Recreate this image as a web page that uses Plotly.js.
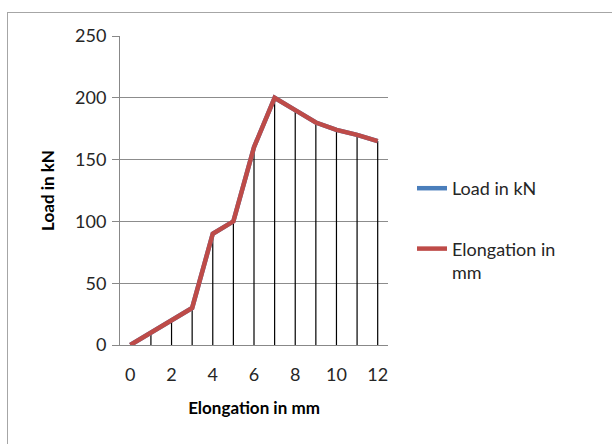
<!DOCTYPE html>
<html>
<head>
<meta charset="utf-8">
<script src="https://cdn.plot.ly/plotly-3.0.1.min.js"></script>
<style>
  html, body { margin: 0; padding: 0; background: #fff; }
  #wrap { position: relative; width: 612px; height: 444px; overflow: hidden; }
  #frame { position: absolute; left: 7px; top: 12px; width: 640px; height: 480px; border: 1px solid #a6a6a6; box-sizing: border-box; pointer-events: none; }
  #chart { position: absolute; left: 0; top: 0; width: 612px; height: 444px; }
</style>
</head>
<body>
<div id="wrap">
  <div id="chart"></div>
  <div id="frame"></div>
</div>
<script>
const elongation = [0, 1, 2, 3, 4, 5, 6, 7, 8, 9, 10, 11, 12];
const load = [0, 10, 20, 30, 90, 100, 160, 200, 190, 180, 174, 170, 165];
const xTicks = [0, 2, 4, 6, 8, 10, 12];
const yTicks = [0, 50, 100, 150, 200, 250];
const seriesNames = ['Load in kN', 'Elongation in<br>mm'];

const font = "Lato, 'Open Sans', 'Liberation Sans', sans-serif";

const traces = [
  {
    x: elongation, y: load, type: 'scatter', mode: 'markers',
    marker: { size: 1, opacity: 0 },
    error_y: { type: 'data', symmetric: false, array: load.map(() => 0), arrayminus: load, width: 0, color: '#000', thickness: 1.2 },
    showlegend: false, hoverinfo: 'skip'
  },
  {
    x: elongation, y: load, type: 'scatter', mode: 'lines', name: seriesNames[0],
    line: { color: '#4a7ebb', width: 4.5 }, legendgroup: 'a'
  },
  {
    x: elongation, y: load, type: 'scatter', mode: 'lines', name: seriesNames[1],
    line: { color: '#be4b48', width: 4.5 }, legendgroup: 'b'
  }
];

const layout = {
  width: 612, height: 444,
  margin: { l: 120, r: 224, t: 36, b: 99 },
  paper_bgcolor: '#fff', plot_bgcolor: '#fff',
  font: { family: font, size: 18, color: '#262626' },
  xaxis: {
    range: [-0.5, 12.5], tickvals: xTicks, ticktext: xTicks.map(String),
    showgrid: false, zeroline: false, showline: true, linecolor: '#888', linewidth: 1,
    ticks: '', ticklabelstandoff: 13,
    title: { text: '<b>Elongation in mm</b>', font: { family: font, size: 17, color: '#000' }, standoff: 18 }
  },
  yaxis: {
    range: [0, 250], tickvals: yTicks, ticktext: yTicks.map(String),
    showgrid: true, gridcolor: '#8c8c8c', gridwidth: 1,
    zeroline: false, showline: true, linecolor: '#888', linewidth: 1,
    ticks: 'outside', ticklen: 7, tickcolor: '#888', ticklabelstandoff: 2,
    title: { text: '<b>Load in kN</b>', font: { family: font, size: 17, color: '#000' }, standoff: 16 }
  },
  legend: {
    x: (412 - 120) / 268, xanchor: 'left', y: (345 - 170) / 309, yanchor: 'top',
    traceorder: 'grouped', tracegroupgap: 34, valign: 'top',
    font: { family: font, size: 18, color: '#262626' },
    bgcolor: 'rgba(0,0,0,0)'
  },
  showlegend: true
};

Plotly.newPlot('chart', traces, layout, { displayModeBar: false, staticPlot: true });
</script>
</body>
</html>
